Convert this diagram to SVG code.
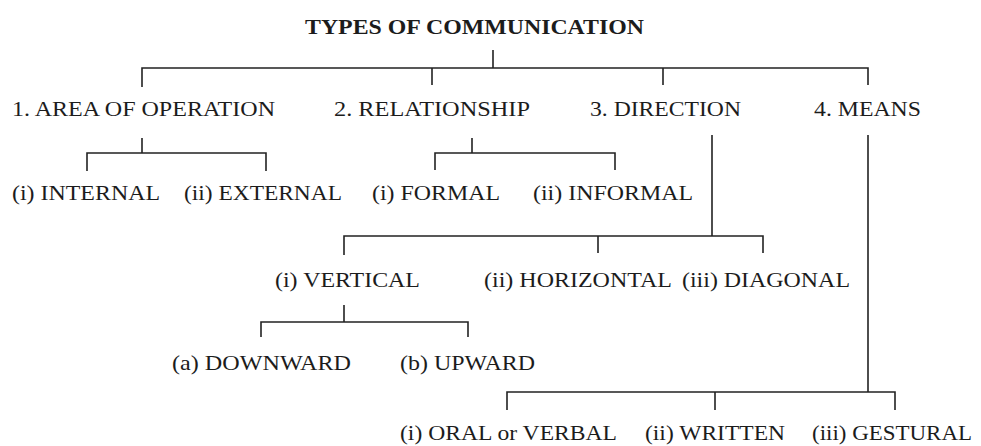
<svg xmlns="http://www.w3.org/2000/svg" width="981" height="446" viewBox="0 0 981 446">
<style>
text{font-family:"Liberation Serif","Times New Roman",serif;font-size:21px;fill:#1c1c1c}
.t{font-weight:bold;font-size:22px}
.c path{fill:none;stroke:#222;stroke-width:1.6}
</style>
<rect width="981" height="446" fill="#fff"/>
<g class="c" id="connectors">
<path d="M493 50V68M142 87V68H868V85M432 68V85M663 68V85"/>
<path d="M142 138V153M87 171V153H266V171"/>
<path d="M472 138V153M435 170V153H615V170"/>
<path d="M712 135V236M344 255V236H763V253M598 236V253"/>
<path d="M344 305V322M261 337V322H468V337"/>
<path d="M868 135V392M507 410V392H895V410M715 392V410"/>
</g>
<g id="root"><text class="t" x="305" y="34" textLength="339" lengthAdjust="spacingAndGlyphs">TYPES OF COMMUNICATION</text></g>
<g id="area"><text x="12" y="116" textLength="263" lengthAdjust="spacingAndGlyphs">1. AREA OF OPERATION</text></g>
<g id="relationship"><text x="334" y="116" textLength="196" lengthAdjust="spacingAndGlyphs">2. RELATIONSHIP</text></g>
<g id="direction"><text x="590" y="116" textLength="151" lengthAdjust="spacingAndGlyphs">3. DIRECTION</text></g>
<g id="means"><text x="814" y="116" textLength="107" lengthAdjust="spacingAndGlyphs">4. MEANS</text></g>
<g id="internal"><text x="12" y="200" textLength="148" lengthAdjust="spacingAndGlyphs">(i) INTERNAL</text></g>
<g id="external"><text x="184" y="200" textLength="158" lengthAdjust="spacingAndGlyphs">(ii) EXTERNAL</text></g>
<g id="formal"><text x="372" y="200" textLength="128" lengthAdjust="spacingAndGlyphs">(i) FORMAL</text></g>
<g id="informal"><text x="533" y="200" textLength="160" lengthAdjust="spacingAndGlyphs">(ii) INFORMAL</text></g>
<g id="vertical"><text x="275" y="287" textLength="145" lengthAdjust="spacingAndGlyphs">(i) VERTICAL</text></g>
<g id="horizontal"><text x="484" y="287" textLength="188" lengthAdjust="spacingAndGlyphs">(ii) HORIZONTAL</text></g>
<g id="diagonal"><text x="682" y="287" textLength="168" lengthAdjust="spacingAndGlyphs">(iii) DIAGONAL</text></g>
<g id="downward"><text x="172" y="370" textLength="179" lengthAdjust="spacingAndGlyphs">(a) DOWNWARD</text></g>
<g id="upward"><text x="400" y="370" textLength="135" lengthAdjust="spacingAndGlyphs">(b) UPWARD</text></g>
<g id="oral"><text x="400" y="440" textLength="217" lengthAdjust="spacingAndGlyphs">(i) ORAL or VERBAL</text></g>
<g id="written"><text x="645" y="440" textLength="140" lengthAdjust="spacingAndGlyphs">(ii) WRITTEN</text></g>
<g id="gestural"><text x="812" y="440" textLength="160" lengthAdjust="spacingAndGlyphs">(iii) GESTURAL</text></g>
</svg>
